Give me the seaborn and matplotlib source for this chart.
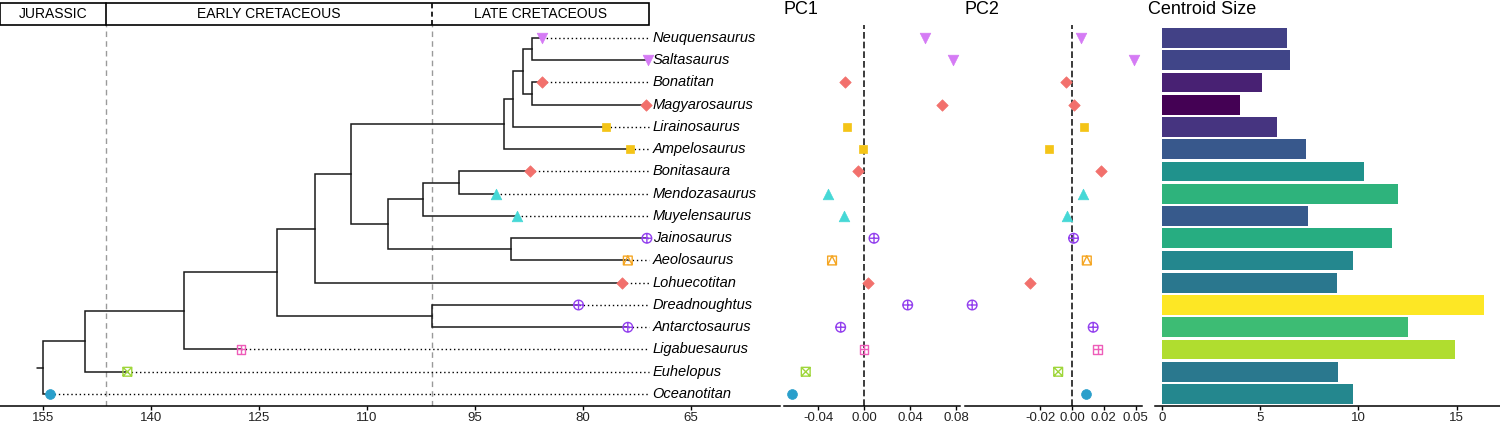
import numpy as np
import pandas as pd
import matplotlib
matplotlib.use("Agg")
import matplotlib.pyplot as plt
import matplotlib.transforms as mtransforms
from matplotlib.path import Path
import seaborn as sns

# ---- data ----
taxa = ["Neuquensaurus", "Saltasaurus", "Bonatitan", "Magyarosaurus", "Lirainosaurus",
        "Ampelosaurus", "Bonitasaura", "Mendozasaurus", "Muyelensaurus", "Jainosaurus",
        "Aeolosaurus", "Lohuecotitan", "Dreadnoughtus", "Antarctosaurus", "Ligabuesaurus",
        "Euhelopus", "Oceanotitan"]
tip_age = [85.7, 71.0, 85.7, 71.25, 76.8, 73.5, 87.4, 92.1, 89.2, 71.1,
           73.75, 74.6, 80.6, 73.75, 127.5, 143.3, 154.0]
group = ["g1", "g1", "g2", "g2", "g3", "g3", "g2", "g4", "g4", "g5",
         "g6", "g2", "g5", "g5", "g7", "g8", "g9"]
pc1 = [0.053, 0.077, -0.0165, 0.068, -0.0145, -0.001, -0.0055, -0.031, -0.0174, 0.0087,
       -0.0278, 0.0038, 0.038, -0.0203, 0.0, -0.0507, -0.063]
pc2 = [0.0049, 0.0478, -0.0039, 0.0008, 0.0069, -0.0142, 0.0181, 0.0061, -0.0033, 0.0008,
       0.0087, -0.028, -0.116, 0.0127, 0.0158, -0.0083, 0.0079]
centroid = [6.37, 6.52, 5.1, 3.98, 5.86, 7.34, 10.29, 12.0, 7.44, 11.7,
            9.73, 8.91, 16.4, 12.5, 14.9, 8.95, 9.73]

# internal nodes (age in Ma) and topology
node_age = {"root": 155.0, "n1": 149.2, "n2": 135.4, "n3": 122.5, "n4": 117.2, "n5": 112.2,
            "n6": 91.0, "n7": 107.1, "n8": 102.2, "n9": 97.2, "n10": 90.0, "n11": 89.7,
            "n12": 88.3, "n13": 87.1, "n14": 87.1, "n15": 101.0}
children = {"root": ["n1", "Oceanotitan"], "n1": ["n2", "Euhelopus"],
            "n2": ["n3", "Ligabuesaurus"], "n3": ["n4", "n15"],
            "n15": ["Dreadnoughtus", "Antarctosaurus"], "n4": ["n5", "Lohuecotitan"],
            "n5": ["n6", "n7"], "n6": ["n11", "Ampelosaurus"], "n11": ["n12", "Lirainosaurus"],
            "n12": ["n13", "n14"], "n13": ["Neuquensaurus", "Saltasaurus"],
            "n14": ["Bonatitan", "Magyarosaurus"], "n7": ["n8", "n10"],
            "n8": ["n9", "Muyelensaurus"], "n9": ["Bonitasaura", "Mendozasaurus"],
            "n10": ["Jainosaurus", "Aeolosaurus"]}
root_stub = 155.9

epoch_names = ["JURASSIC", "EARLY CRETACEOUS", "LATE CRETACEOUS"]
epoch_bounds = [161.0, 146.2, 101.0, 70.75]
time_ticks = [155, 140, 125, 110, 95, 80, 65]
pc1_ticks = [-0.04, 0.0, 0.04, 0.08]
pc2_ticks = [-0.02, 0.0, 0.02, 0.05]
cs_ticks = [0, 5, 10, 15]

# ---- marker shapes ----
M, L, C = Path.MOVETO, Path.LINETO, Path.CLOSEPOLY
square = Path([(-1, -1), (1, -1), (1, 1), (-1, 1), (-1, -1)], [M, L, L, L, C])
plus = Path([(-1, 0), (1, 0), (0, -1), (0, 1)], [M, L, M, L])
cross = Path([(-1, -1), (1, 1), (-1, 1), (1, -1)], [M, L, M, L])
tri = Path([(-1, -1), (0, 1), (1, -1)], [M, L, L])
circle = Path.unit_circle()

group_style = {
    "g1": ("v", "#D57BF5", True, 58),
    "g2": ("D", "#F2706C", True, 34),
    "g3": ("s", "#F4C417", True, 40),
    "g4": ("^", "#45D8D6", True, 58),
    "g5": (Path.make_compound_path(circle, plus), "#9340EE", False, 48),
    "g6": (Path.make_compound_path(square, tri), "#F5A623", False, 40),
    "g7": (Path.make_compound_path(square, plus), "#EE5DB9", False, 40),
    "g8": (Path.make_compound_path(square, cross), "#9FD63A", False, 40),
    "g9": ("o", "#2A9FCB", True, 50),
}

df = pd.DataFrame({"taxon": taxa, "age": tip_age, "group": group,
                   "pc1": pc1, "pc2": pc2, "csize": centroid})
df["row"] = np.arange(len(taxa))

sns.set_theme(style="white")
plt.rcParams["font.family"] = ["Liberation Sans", "DejaVu Sans"]
plt.rcParams["axes.unicode_minus"] = False

W, H = 1500, 423
fig = plt.figure(figsize=(W / 100, H / 100), dpi=100)
bot, top = 406, 25
fb, fh = (H - bot) / H, (bot - top) / H


def add_ax(x0, x1):
    return fig.add_axes([x0 / W, fb, (x1 - x0) / W, fh])


ax_tree = add_ax(0, 780)
ax_pc1 = add_ax(784, 960)
ax_pc2 = add_ax(965, 1142)
ax_cs = add_ax(1155, 1500)

# row 0 sits at y=38 px, rows 22.25 px apart
ylim = ((bot - 38) / 22.25, -(38 - top) / 22.25)


def scatter_groups(ax, xcol):
    for g, sub in df.groupby("group"):
        mk, col, filled, size = group_style[g]
        if filled:
            sns.scatterplot(data=sub, x=xcol, y="row", marker=mk, color=col, s=size,
                            edgecolor=col, linewidth=0.5, ax=ax, zorder=4, legend=False)
        else:
            sns.scatterplot(data=sub, x=xcol, y="row", marker=mk, color=col, s=size,
                            facecolor="none", edgecolor=col, linewidth=1.0, ax=ax,
                            zorder=4, legend=False)


def style_bottom(ax, ticks, labels):
    for s in ["left", "right", "top"]:
        ax.spines[s].set_visible(False)
    ax.spines["bottom"].set_linewidth(1.1)
    ax.spines["bottom"].set_color("black")
    ax.set_xticks(ticks)
    ax.set_xticklabels(labels)
    ax.xaxis.set_minor_locator(matplotlib.ticker.NullLocator())
    ax.tick_params(axis="x", bottom=True, length=3, width=1.0, color="black",
                   labelsize=9.5, labelcolor="#222222", pad=1)
    ax.set_yticks([])
    ax.set_xlabel("")
    ax.set_ylabel("")
    ax.set_ylim(*ylim)


# ---- tree ----
lc = "#1a1a1a"
row_of = {t: i for i, t in enumerate(taxa)}
age_of = dict(zip(taxa, tip_age))
age_of.update(node_age)


def draw(node):
    if node not in children:
        return row_of[node]
    ys = [draw(c) for c in children[node]]
    ymid = float(np.mean(ys))
    a = node_age[node]
    for c, yc in zip(children[node], ys):
        ax_tree.plot([a, a, age_of[c]], [ymid, yc, yc], color=lc, lw=1.1,
                     solid_joinstyle="miter", zorder=2)
    return ymid


yroot = draw("root")
ax_tree.plot([root_stub, node_age["root"]], [yroot, yroot], color=lc, lw=1.1)

label_x = 70.3
for t, a, r in zip(taxa, tip_age, range(len(taxa))):
    ax_tree.plot([a, epoch_bounds[-1]], [r, r], color="black", lw=1.0,
                 linestyle=(0, (1, 2)), zorder=1)
    ax_tree.text(label_x, r, t, ha="left", va="center", fontsize=10.5,
                 style="italic", color="black")

scatter_groups(ax_tree, "age")

for b in epoch_bounds[1:3]:
    ax_tree.axvline(b, color="#9a9a9a", lw=1.0, linestyle=(0, (4, 3)), zorder=0)

ax_tree.set_xlim(161.0, 52.6)
style_bottom(ax_tree, time_ticks, [str(t) for t in time_ticks])

# epoch banner
trans = mtransforms.blended_transform_factory(ax_tree.transData, ax_tree.transAxes)
y0, y1 = 1.0, 1.0 + 22 / (bot - top)
ax_tree.add_patch(plt.Rectangle((epoch_bounds[0], y0), epoch_bounds[-1] - epoch_bounds[0],
                                y1 - y0, transform=trans, fill=False, ec="black",
                                lw=1.2, clip_on=False))
ax_tree.plot([epoch_bounds[1]] * 2, [y0, y1], transform=trans, color="black", lw=1.2,
             clip_on=False)
ax_tree.plot([epoch_bounds[2]] * 2, [y0, y1], transform=trans, color="black", lw=1.2,
             linestyle=(0, (3, 2)), clip_on=False)
for name, lo, hi in zip(epoch_names, epoch_bounds[:-1], epoch_bounds[1:]):
    ax_tree.text((lo + hi) / 2, (y0 + y1) / 2, name, transform=trans, ha="center",
                 va="center", fontsize=10, color="black")

# ---- PC1 ----
ax_pc1.axvline(0, color="#1a1a1a", lw=1.2, linestyle=(0, (4, 1.8)), zorder=1)
scatter_groups(ax_pc1, "pc1")
ax_pc1.set_xlim(-0.0696, 0.0835)
style_bottom(ax_pc1, pc1_ticks, ["-0.04", "0.00", "0.04", "0.08"])

# ---- PC2 (compressed scale) ----
ax_pc2.set_xscale("asinh", linear_width=0.027)
ax_pc2.axvline(0, color="#1a1a1a", lw=1.2, linestyle=(0, (4, 1.8)), zorder=1)
scatter_groups(ax_pc2, "pc2")
ax_pc2.set_xlim(-0.136, 0.0582)
style_bottom(ax_pc2, pc2_ticks, ["-0.02", "0.00", "0.02", "0.05"])

# ---- Centroid size ----
sns.barplot(data=df, x="csize", y="taxon", hue="csize", palette="viridis", order=taxa,
            orient="h", width=0.88, saturation=1, errorbar=None, legend=False,
            linewidth=0, ax=ax_cs)
ax_cs.set_xlim(-0.34, 17.2)
style_bottom(ax_cs, cs_ticks, [str(t) for t in cs_ticks])

# panel titles
for x0, txt in [(784, "PC1"), (965, "PC2"), (1148, "Centroid Size")]:
    fig.text(x0 / W, 1 - 9 / H, txt, ha="left", va="center", fontsize=13, color="black")

fig.savefig("out.png", dpi=100)
